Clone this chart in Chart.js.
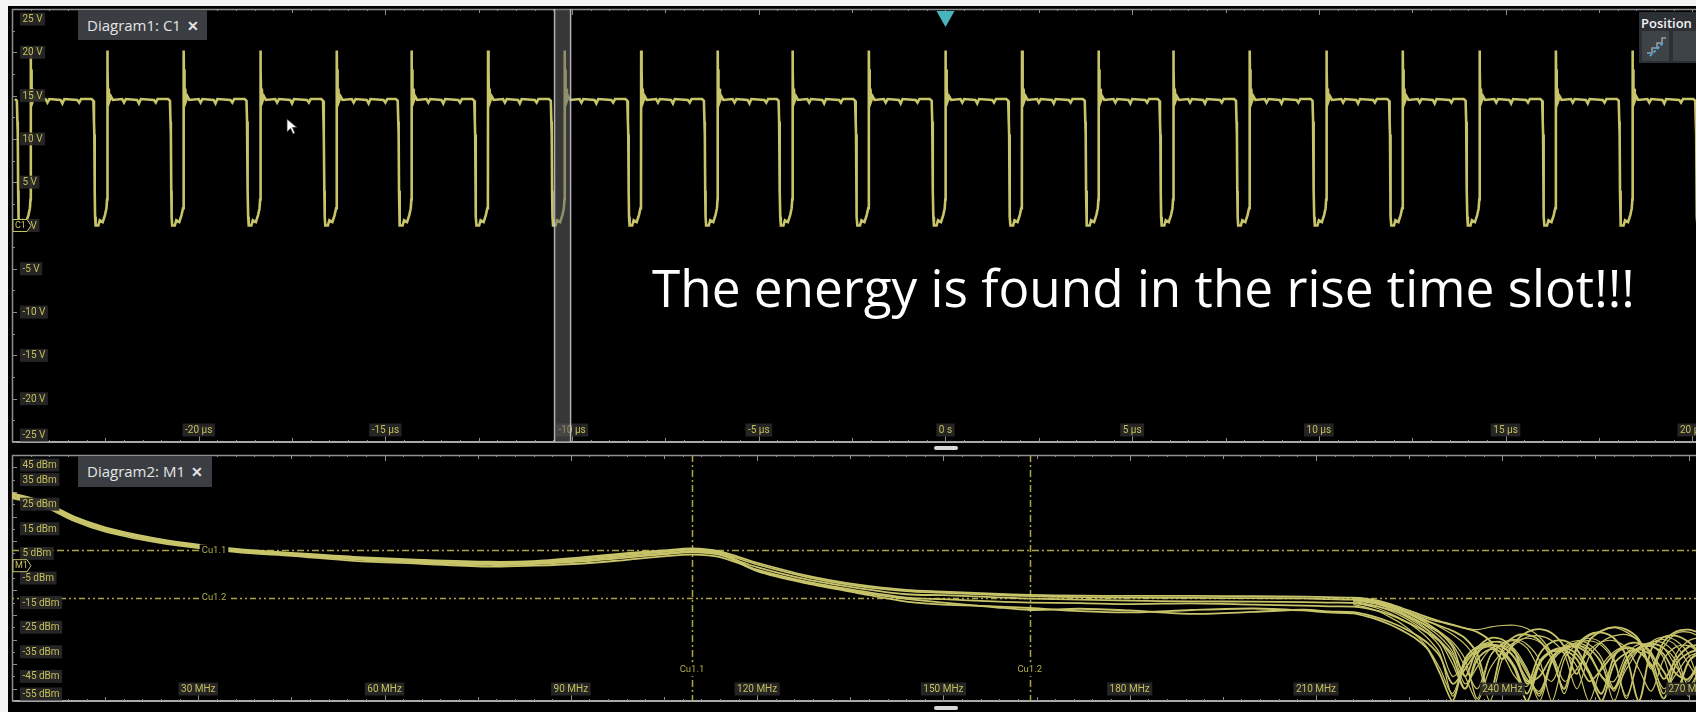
<!DOCTYPE html>
<html>
<head>
<meta charset="utf-8">
<script src="https://cdn.jsdelivr.net/npm/chart.js@4.4.1/dist/chart.umd.min.js"></script>
<style>
  body { margin: 0; background: #000; width: 1696px; height: 712px; overflow: hidden; position: relative; font-family: "Open Sans", sans-serif; }
  canvas { position: absolute; left: 0; }
  #scopeTop { top: 0; }
  #scopeBottom { top: 446px; }
  .strip { position: absolute; background: #f3f3f3; }
  .tab { position: absolute; left: 78px; background: #3a3e42; color: #e4e4e4; font: 15px "Open Sans", sans-serif; padding-left: 9px; box-sizing: border-box; white-space: nowrap; }
  .tab b { font-weight: 700; margin-left: 6px; font-size: 14px; }
  #note { position: absolute; left: 652px; color: #fff; font-family: "Open Sans", sans-serif; line-height: 1; white-space: nowrap; }
  #posPanel { position: absolute; left: 1639px; top: 12px; width: 57px; height: 51px; background: #2c3035; }
  #posPanel span { position: absolute; left: 2px; top: 2px; color: #f2f2f2; font: 600 13px "Open Sans", sans-serif; }
  .btn { position: absolute; top: 19px; height: 30px; background: #3e4348; }
  .handle { position: absolute; left: 934px; width: 24px; height: 4px; background: #d8d8d8; border-radius: 2px; }
</style>
</head>
<body>
<canvas id="scopeTop" width="1696" height="446"></canvas>
<canvas id="scopeBottom" width="1696" height="266"></canvas>
<div class="strip" style="left:0;top:0;width:8px;height:712px"></div>
<div class="strip" style="left:0;top:0;width:1696px;height:6px"></div>
<div class="tab" style="top:10px;width:129px;height:30px;line-height:30px">Diagram1: C1<b>✕</b></div>
<div class="tab" style="top:456px;width:134px;height:31px;line-height:31px">Diagram2: M1<b>✕</b></div>
<div id="note">The energy is found in the rise time slot!!!</div>
<div id="posPanel"><span>Position</span>
  <div class="btn" style="left:3px;width:27px">
    <svg width="27" height="30"><path d="M5 22 h5 v-5 h5 v-5 h5 v-5 h4" stroke="#9aa0a6" stroke-width="1.5" fill="none"/><path d="M8 25 L22 11" stroke="#4aa8e0" stroke-width="2" stroke-dasharray="3 2"/></svg>
  </div>
  <div class="btn" style="left:34px;width:23px"></div>
</div>
<div class="handle" style="top:446px"></div>
<div class="handle" style="top:706px"></div>
<svg style="position:absolute;left:286px;top:118px" width="14" height="18"><path d="M1 1 L1 14 L4.5 10.5 L7 16 L9 15 L6.5 9.5 L11 9.5 Z" fill="#fff" stroke="#333" stroke-width="0.8"/></svg>

<script>
// ---- top diagram: C1 time trace ----
const riseEdgesUs = [-24.5, -22.45, -20.4, -18.35, -16.3, -14.3, -12.25, -10.2, -8.15, -6.1, -4.1, -2.05,
  0, 2.05, 4.1, 6.1, 8.15, 10.2, 12.25, 14.3, 16.35, 18.4, 20.45];
// one switching period around a rising edge (time offset in µs, volts)
const pulseOffsetsUs = [-0.42, -0.37, -0.355, -0.345, -0.335, -0.325, -0.31, -0.24, -0.2, -0.12, -0.06, -0.02, -0.005,
  0, 0.008, 0.015, 0.025, 0.04, 0.06, 0.1, 0.15, 0.4, 0.45, 0.5, 0.8, 0.85, 0.9, 1.25, 1.3, 1.35, 1.6];
const pulseVolts = [14.6, 14.4, 12.0, 10.5, 4.0, 1.0, 0.0, 0.0, 0.6, 0.4, 1.2, 2.0, 3.0,
  20.2, 15.5, 18.0, 14.2, 15.8, 14.4, 14.9, 14.5, 14.6, 14.2, 14.6, 14.5, 14.1, 14.6, 14.5, 14.2, 14.6, 14.6];
const voltTicks = [25, 20, 15, 10, 5, 0, -5, -10, -15, -20, -25];
const timeTicks = [-20, -15, -10, -5, 0, 5, 10, 15, 20];
const timeTickLabels = ['-20 µs', '-15 µs', '-10 µs', '-5 µs', '0 s', '5 µs', '10 µs', '15 µs', '20 µs'];

// ---- bottom diagram: M1 spectrum (dBm) ----
const freqMHz = [0, 5, 10, 15, 20, 25, 30, 37.5, 45, 55, 66, 77, 84, 92, 99, 105, 109.5, 114, 120, 128, 136, 144, 150,
  158, 164, 172, 180, 190, 200, 208, 212,
  216, 218, 220, 222, 224, 226, 228, 230, 232, 234, 236, 238, 240, 242, 244, 246, 248, 250, 252, 254, 256, 258, 260,
  262, 264, 266, 268, 270, 272];
const sweepA = [29.5, 26.0, 20.0, 15.6, 12.6, 10.3, 8.6, 6.5, 5.2, 3.6, 2.4, 1.6, 1.9, 3.5, 5.1, 6.2, 7.0, 5.8, 1.2, -4.0,
  -7.6, -9.8, -10.5, -11.4, -11.9, -12.2, -12.3, -12.3, -12.4, -12.6, -12.8,
  -13.0, -13.4, -14.2, -15.6, -17.4, -19.2, -21.0, -22.6, -24.0, -25.4, -27.0, -30.5, -38.0, -31.0, -27.0, -25.8, -27.5,
  -33.0, -44.0, -30.5, -26.5, -25.0, -26.0, -30.0, -41.0, -31.0, -26.8, -26.0, -27.5];
const sweepB = [28.8, 25.4, 19.4, 15.0, 12.1, 9.8, 8.1, 6.0, 4.8, 3.1, 1.9, 1.0, 1.4, 2.8, 4.4, 5.6, 6.5, 5.2, 0.5, -4.6,
  -8.2, -10.3, -11.0, -11.9, -12.4, -12.8, -13.0, -13.1, -13.2, -13.3, -13.6,
  -13.8, -14.5, -15.4, -16.8, -18.6, -20.6, -22.6, -24.5, -26.5, -29.5, -36.0, -52.0, -34.0, -28.8, -28.0, -30.5, -38.0,
  -50.0, -33.0, -28.0, -27.2, -29.5, -37.0, -55.0, -34.0, -29.0, -28.5, -31.0, -36.0];
const sweepC = [28.0, 24.8, 18.8, 14.4, 11.6, 9.3, 7.6, 5.6, 4.4, 2.6, 1.3, 0.3, 0.7, 1.8, 3.3, 4.6, 5.4, 4.4, -0.6, -5.6,
  -9.0, -11.6, -12.0, -12.8, -13.4, -13.8, -14.2, -14.5, -14.6, -14.8, -15.0,
  -15.1, -15.8, -16.6, -18.0, -19.8, -22.0, -24.5, -27.5, -33.0, -45.0, -33.5, -29.5, -30.0, -35.0, -48.0, -36.0, -31.0,
  -30.5, -34.0, -43.0, -52.0, -37.0, -32.0, -31.5, -35.5, -46.0, -38.0, -33.0, -32.0];
const sweepD = [27.5, 24.2, 18.2, 13.8, 11.0, 8.8, 7.2, 5.2, 4.0, 2.0, 0.8, -0.4, 0.0, 0.9, 2.4, 3.8, 4.5, 3.5, -1.6, -6.5,
  -10.0, -13.0, -13.6, -14.5, -15.0, -15.2, -15.6, -15.3, -15.8, -16.2, -16.5,
  -16.6, -17.2, -18.4, -20.0, -22.2, -24.6, -27.4, -31.0, -37.5, -50.0, -38.0, -34.0, -35.5, -42.0, -55.0, -40.0, -35.0,
  -34.5, -38.0, -47.0, -42.0, -36.0, -33.5, -35.0, -41.0, -54.0, -40.0, -35.5, -34.0];
const sweepE = [28.2, 25.0, 19.0, 14.6, 11.8, 9.5, 7.9, 5.9, 4.6, 2.9, 1.6, 0.6, 1.0, 2.3, 3.8, 5.0, 5.8, 4.7, -2.2, -7.2,
  -11.0, -14.6, -15.8, -16.5, -17.2, -18.5, -19.0, -18.0, -17.4, -18.2, -19.0,
  -19.4, -20.5, -22.0, -24.0, -26.5, -29.5, -34.0, -44.0, -55.0, -38.0, -33.0, -32.0, -34.5, -41.0, -52.0, -39.0, -34.5,
  -33.5, -36.0, -44.0, -55.0, -40.0, -35.5, -34.0, -36.5, -43.0, -51.0, -39.0, -35.0];
const sweepF = [29.0, 25.7, 19.7, 15.3, 12.3, 10.0, 8.3, 6.2, 5.0, 3.3, 2.1, 1.3, 1.6, 3.0, 4.7, 5.8, 6.6, 5.5, -1.9, -6.8,
  -10.5, -13.5, -15.0, -16.8, -18.0, -17.5, -18.2, -19.6, -18.8, -17.9, -18.6,
  -18.9, -19.8, -21.2, -23.0, -25.2, -28.0, -31.5, -37.0, -48.0, -42.0, -35.0, -32.5, -33.0, -37.5, -47.0, -45.0, -37.0,
  -33.5, -33.0, -36.5, -45.0, -50.0, -38.0, -33.5, -32.8, -36.0, -44.0, -46.0, -37.0];
// extra sweeps only visible where they split from the bundle
const tailFreqMHz = [216, 218, 220, 222, 224, 226, 228, 230, 232, 234, 236, 238, 240, 242, 244, 246, 248, 250, 252,
  254, 256, 258, 260, 262, 264, 266, 268, 270, 272];
const tailG = [-13.2, -13.8, -14.8, -16.5, -18.6, -21.0, -23.8, -27.0, -31.0, -38.0, -54.0, -37.0, -31.5, -30.0, -32.0,
  -38.5, -55.0, -38.0, -32.0, -30.5, -32.5, -39.0, -53.0, -38.0, -31.0, -29.0, -30.5, -36.0, -50.0];
const tailH = [-14.2, -14.8, -15.8, -17.6, -20.0, -23.0, -26.5, -31.0, -40.0, -50.0, -36.0, -31.5, -31.0, -34.0, -42.0,
  -53.0, -38.0, -33.0, -32.0, -35.5, -45.0, -47.0, -36.0, -32.0, -32.5, -37.5, -52.0, -39.0, -33.5];
const tailI = [-13.6, -14.2, -15.0, -16.2, -17.8, -19.8, -21.6, -23.0, -24.2, -25.4, -26.0, -25.0, -24.3, -24.2, -25.5,
  -29.0, -36.0, -52.0, -34.0, -28.5, -26.5, -25.2, -27.0, -31.0, -42.0, -33.0, -27.5, -27.0, -29.0];
const tailJ = [-14.6, -15.4, -16.6, -18.4, -20.8, -23.8, -27.5, -33.0, -45.0, -40.0, -34.0, -32.0, -33.0, -37.5, -46.0,
  -51.0, -39.0, -34.0, -32.5, -34.0, -39.5, -55.0, -40.0, -34.0, -32.0, -33.5, -39.0, -53.0, -38.0];
const tailK = [-13.4, -14.0, -15.2, -17.0, -19.4, -22.4, -26.0, -30.5, -36.0, -45.0, -55.0, -42.0, -35.0, -31.0, -29.5,
  -31.0, -36.0, -47.0, -42.0, -34.5, -31.0, -30.5, -33.5, -42.0, -51.0, -38.0, -33.0, -32.5, -36.0];
const tailL = [-15.8, -16.8, -18.5, -21.0, -24.0, -28.0, -33.5, -42.0, -52.0, -39.0, -34.0, -33.0, -36.0, -45.0, -49.0,
  -39.5, -35.0, -35.5, -41.0, -55.0, -41.0, -35.0, -33.0, -35.0, -40.0, -50.0, -44.0, -37.0, -35.0];
const tailM = [-13.0, -13.6, -14.6, -16.0, -18.0, -20.5, -23.5, -27.0, -32.0, -41.0, -50.0, -37.0, -32.0, -30.5, -33.5,
  -42.0, -47.0, -36.0, -31.0, -29.5, -31.5, -38.0, -54.0, -37.5, -31.5, -30.0, -32.5, -40.0, -48.0];
const tailN = [-14.0, -14.6, -15.6, -17.2, -19.2, -21.8, -25.0, -29.0, -35.0, -48.0, -41.0, -34.0, -32.5, -35.5, -44.0,
  -52.0, -38.0, -32.5, -30.5, -32.0, -37.5, -50.0, -42.0, -34.0, -31.0, -31.5, -36.5, -49.0, -41.0];
const tailO = [-15.2, -16.0, -17.4, -19.4, -22.0, -25.2, -29.5, -36.0, -53.0, -40.0, -33.5, -31.0, -31.5, -35.0, -43.0,
  -55.0, -39.0, -33.5, -31.5, -33.5, -40.0, -51.0, -38.5, -33.0, -31.5, -33.5, -41.0, -47.0, -37.0];
const tailP = [-13.8, -14.4, -15.2, -16.6, -18.2, -20.2, -22.4, -25.0, -28.0, -32.0, -39.0, -55.0, -38.0, -32.0, -29.0,
  -28.5, -30.5, -36.0, -50.0, -37.0, -31.0, -28.5, -28.0, -30.5, -37.0, -52.0, -36.0, -30.5, -29.0];
const dbmTicks = [45, 35, 25, 15, 5, -5, -15, -25, -35, -45, -55];
const freqTicks = [30, 60, 90, 120, 150, 180, 210, 240, 270];
const freqTickLabels = ['30 MHz', '60 MHz', '90 MHz', '120 MHz', '150 MHz', '180 MHz', '210 MHz', '240 MHz', '270 MHz'];
const cursorNames = ['Cu1.1', 'Cu1.2'];
const cursorLevelsDbm = [6.2, -13.1];
const cursorFreqsMHz = [109.5, 163.9];

const TRACE = '#c8c46a';
const TAG_TEXT = '#c6bf5a';
const TAG_BG = 'rgba(40,40,40,0.92)';
const AXIS = '#8e8e8e';

// build the C1 point list from the edge times and the pulse shape
const scopePoints = [];
riseEdgesUs.forEach(t0 => {
  pulseOffsetsUs.forEach((dt, i) => scopePoints.push({ x: t0 + dt, y: pulseVolts[i] }));
});

function drawTag(ctx, text, x, y, centered) {
  ctx.font = '10px Roboto, sans-serif';
  const w = ctx.measureText(text).width + 5;
  const bx = centered ? x - w / 2 : x;
  ctx.fillStyle = TAG_BG;
  ctx.fillRect(bx, y - 6.5, w, 13);
  ctx.fillStyle = TAG_TEXT;
  ctx.textAlign = 'left';
  ctx.textBaseline = 'middle';
  ctx.fillText(text, bx + 2.5, y + 0.5);
}

function drawFrame(ctx, chart, xStep, xMid, xMaj, yStep, yMaj) {
  const a = chart.chartArea, xs = chart.scales.x, ys = chart.scales.y;
  ctx.save();
  ctx.strokeStyle = AXIS;
  ctx.lineWidth = 1.5;
  ctx.beginPath();
  ctx.moveTo(a.left + 0.5, a.top); ctx.lineTo(a.left + 0.5, a.bottom);
  ctx.moveTo(a.left, a.top + 0.5); ctx.lineTo(a.right, a.top + 0.5);
  ctx.stroke();
  ctx.strokeStyle = '#a8a8a8';
  ctx.lineWidth = 2;
  ctx.beginPath();
  ctx.moveTo(a.left, a.bottom); ctx.lineTo(a.right, a.bottom);
  ctx.stroke();
  ctx.lineWidth = 1;
  ctx.strokeStyle = AXIS;
  ctx.beginPath();
  const k0 = Math.ceil(xs.min / xStep), k1 = Math.floor(xs.max / xStep);
  for (let k = k0; k <= k1; k++) {
    const v = k * xStep;
    const px = Math.round(xs.getPixelForValue(v)) + 0.5;
    const len = Math.abs(v % xMaj) < 1e-6 ? 6 : Math.abs(v % xMid) < 1e-6 ? 4 : 2;
    ctx.moveTo(px, a.bottom); ctx.lineTo(px, a.bottom - len);
    ctx.moveTo(px, a.top); ctx.lineTo(px, a.top + len);
  }
  const j0 = Math.ceil(ys.min / yStep), j1 = Math.floor(ys.max / yStep);
  for (let j = j0; j <= j1; j++) {
    const v = j * yStep;
    const py = Math.round(ys.getPixelForValue(v)) + 0.5;
    const len = Math.abs(v % yMaj) < 1e-6 ? 5 : 3;
    ctx.moveTo(a.left, py); ctx.lineTo(a.left + len, py);
  }
  ctx.stroke();
  ctx.restore();
}

function drawAxisTags(ctx, chart, yTicks, yFmt, xTicks, xLabels) {
  const a = chart.chartArea, xs = chart.scales.x, ys = chart.scales.y;
  yTicks.forEach(v => {
    let py = ys.getPixelForValue(v);
    py = Math.min(Math.max(py, a.top + 10), a.bottom - 7);
    drawTag(ctx, yFmt(v), a.left + 8, py, false);
  });
  xTicks.forEach((v, i) => {
    drawTag(ctx, xLabels[i], xs.getPixelForValue(v), a.bottom - 12, true);
  });
}

function drawMarker(ctx, text, x, y) {
  ctx.save();
  ctx.fillStyle = '#000';
  ctx.strokeStyle = TRACE;
  ctx.lineWidth = 1;
  ctx.beginPath();
  ctx.moveTo(x, y - 6); ctx.lineTo(x + 14, y - 6); ctx.lineTo(x + 18, y); ctx.lineTo(x + 14, y + 6); ctx.lineTo(x, y + 6);
  ctx.closePath();
  ctx.fill(); ctx.stroke();
  ctx.font = '9px Roboto, sans-serif';
  ctx.fillStyle = TRACE;
  ctx.textAlign = 'left'; ctx.textBaseline = 'middle';
  ctx.fillText(text, x + 2, y + 0.5);
  ctx.restore();
}

const topDecor = {
  id: 'topDecor',
  beforeDatasetsDraw(chart) {
    drawFrame(chart.ctx, chart, 0.5, 2.5, 5, 2.5, 5);
  },
  afterDatasetsDraw(chart) {
    const ctx = chart.ctx, a = chart.chartArea, xs = chart.scales.x, ys = chart.scales.y;
    drawAxisTags(ctx, chart, voltTicks, v => v + ' V', timeTicks, timeTickLabels);
    drawMarker(ctx, 'C1', a.left + 1, ys.getPixelForValue(0));
    // grey reference band at -10 µs
    const b0 = xs.getPixelForValue(-10.47), b1 = xs.getPixelForValue(-10.04);
    ctx.save();
    ctx.fillStyle = 'rgba(100,100,100,0.55)';
    ctx.fillRect(b0, a.top, b1 - b0, a.bottom - a.top);
    ctx.strokeStyle = 'rgba(205,205,205,0.85)';
    ctx.lineWidth = 1.5;
    ctx.beginPath();
    ctx.moveTo(b0, a.top); ctx.lineTo(b0, a.bottom);
    ctx.moveTo(b1, a.top); ctx.lineTo(b1, a.bottom);
    ctx.stroke();
    // trigger position marker
    const tx = xs.getPixelForValue(0);
    ctx.fillStyle = '#4ab4bd';
    ctx.beginPath();
    ctx.moveTo(tx - 9, a.top + 2); ctx.lineTo(tx + 9, a.top + 2); ctx.lineTo(tx, a.top + 18);
    ctx.closePath();
    ctx.fill();
    ctx.restore();
  }
};

const bottomDecor = {
  id: 'bottomDecor',
  beforeDatasetsDraw(chart) {
    const ctx = chart.ctx, a = chart.chartArea, xs = chart.scales.x, ys = chart.scales.y;
    drawFrame(ctx, chart, 3, 15, 30, 5, 10);
    ctx.save();
    ctx.strokeStyle = '#aaa545';
    ctx.lineWidth = 1.5;
    cursorLevelsDbm.forEach((lv, i) => {
      ctx.setLineDash(i === 0 ? [7, 3, 2, 3] : [2, 3, 2, 3, 6, 3]);
      const py = Math.round(ys.getPixelForValue(lv)) + 0.5;
      ctx.beginPath(); ctx.moveTo(a.left, py); ctx.lineTo(a.right, py); ctx.stroke();
    });
    ctx.setLineDash([7, 3, 2, 3]);
    cursorFreqsMHz.forEach(f => {
      const px = Math.round(xs.getPixelForValue(f)) + 0.5;
      ctx.beginPath(); ctx.moveTo(px, a.top); ctx.lineTo(px, a.bottom); ctx.stroke();
    });
    ctx.restore();
  },
  afterDatasetsDraw(chart) {
    const ctx = chart.ctx, a = chart.chartArea, xs = chart.scales.x, ys = chart.scales.y;
    drawAxisTags(ctx, chart, dbmTicks, v => v + ' dBm', freqTicks, freqTickLabels);
    drawMarker(ctx, 'M1', a.left + 1, ys.getPixelForValue(0));
    ctx.save();
    ctx.font = '9.5px Roboto, sans-serif';
    ctx.textAlign = 'center'; ctx.textBaseline = 'middle';
    const put = (t, x, y) => {
      const w = ctx.measureText(t).width + 4;
      ctx.fillStyle = '#000'; ctx.fillRect(x - w / 2, y - 6, w, 12);
      ctx.fillStyle = '#b3ad4c'; ctx.fillText(t, x, y);
    };
    cursorLevelsDbm.forEach((lv, i) => put(cursorNames[i], a.left + 202, ys.getPixelForValue(lv)));
    cursorFreqsMHz.forEach((f, i) => put(cursorNames[i], xs.getPixelForValue(f), a.bottom - 31));
    ctx.restore();
  }
};

Chart.defaults.animation = false;

new Chart(document.getElementById('scopeTop').getContext('2d'), {
  type: 'line',
  data: {
    datasets: [{
      label: 'C1',
      data: scopePoints,
      borderColor: TRACE,
      borderWidth: 2.6,
      pointRadius: 0,
      tension: 0
    }]
  },
  options: {
    responsive: false,
    devicePixelRatio: 1,
    layout: { padding: { left: 12, top: 9, right: 0, bottom: 4 } },
    scales: {
      x: { type: 'linear', min: -25, max: 20.1, display: false },
      y: { min: -25, max: 25, display: false }
    },
    plugins: { legend: { display: false }, tooltip: { enabled: false } }
  },
  plugins: [topDecor]
});

const fullSweeps = [sweepA, sweepB, sweepC, sweepD, sweepE, sweepF];
const tailSweeps = [tailG, tailH, tailI, tailJ, tailK, tailL, tailM, tailN, tailO, tailP];
const spectrumSets = [];
fullSweeps.forEach((vals, n) => spectrumSets.push({
  label: 'sweep ' + (n + 1),
  data: freqMHz.map((f, i) => ({ x: f, y: vals[i] })),
  borderColor: TRACE, borderWidth: 1.8, pointRadius: 0, tension: 0.3
}));
tailSweeps.forEach((vals, n) => spectrumSets.push({
  label: 'sweep ' + (n + 7),
  data: tailFreqMHz.map((f, i) => ({ x: f, y: vals[i] })),
  borderColor: TRACE, borderWidth: 1.2, pointRadius: 0, tension: 0.3
}));

new Chart(document.getElementById('scopeBottom').getContext('2d'), {
  type: 'line',
  data: { datasets: spectrumSets },
  options: {
    responsive: false,
    devicePixelRatio: 1,
    layout: { padding: { left: 12, top: 9, right: 0, bottom: 11 } },
    scales: {
      x: { type: 'linear', min: 0, max: 271.2, display: false },
      y: { min: -55, max: 45, display: false }
    },
    plugins: { legend: { display: false }, tooltip: { enabled: false } }
  },
  plugins: [bottomDecor]
});

// size the slide caption to its width in the reference
const note = document.getElementById('note');
note.style.fontSize = '46px';
const fs = 46 * 983 / note.getBoundingClientRect().width;
note.style.fontSize = fs + 'px';
note.style.top = (308 - 0.888 * fs) + 'px';
</script>
</body>
</html>
